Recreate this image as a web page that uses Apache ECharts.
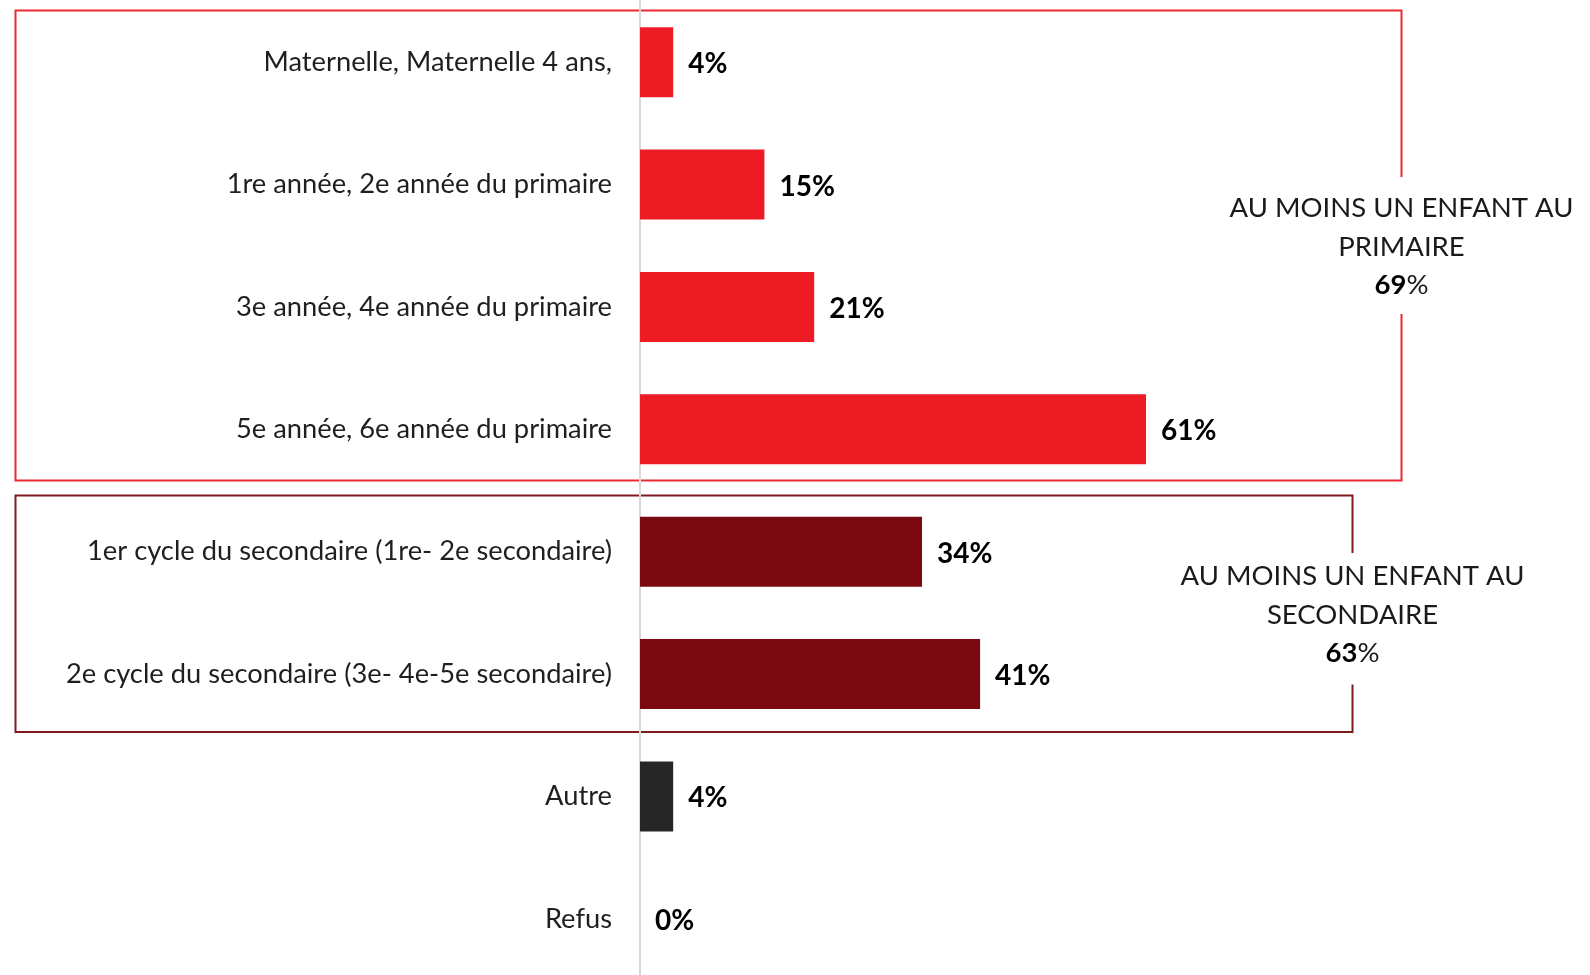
<!DOCTYPE html>
<html>
<head>
<meta charset="utf-8">
<script src="https://cdn.jsdelivr.net/npm/echarts@6/dist/echarts.min.js"></script>
<style>
  html, body { margin: 0; padding: 0; background: #fff; }
  #chart { width: 1590px; height: 975px; }
</style>
</head>
<body>
<div id="chart"></div>
<script>
// catégories (du haut vers le bas)
var categories = [
  'Maternelle, Maternelle 4 ans,',
  '1re année, 2e année du primaire',
  '3e année, 4e année du primaire',
  '5e année, 6e année du primaire',
  '1er cycle du secondaire (1re- 2e secondaire)',
  '2e cycle du secondaire (3e- 4e-5e secondaire)',
  'Autre',
  'Refus'
]
var values = [4, 15, 21, 61, 34, 41, 4, 0]
var groupNames = ['primaire', 'primaire', 'primaire', 'primaire', 'secondaire', 'secondaire', 'autre', 'autre']

// encadrés
var groupTitles = ['AU MOINS UN ENFANT AU\nPRIMAIRE', 'AU MOINS UN ENFANT AU\nSECONDAIRE']
var groupTotals = [69, 63]

var FONT = 'Lato'
var colors = { primaire: '#ED1C24', secondaire: '#7A0A10', autre: '#262626' }
var boxColors = ['#EC2A31', '#7F1A1F']

var chart = echarts.init(document.getElementById('chart'))

function annotText (i) {
  return groupTitles[i] + '\n{b|' + groupTotals[i] + '}%'
}

function annotStyle (i) {
  return {
    text: annotText(i),
    align: 'center',
    verticalAlign: 'middle',
    fill: '#1A1A1A',
    fontSize: 27.5,
    fontFamily: FONT,
    lineHeight: 38.5,
    rich: { b: { fontWeight: 'bold', fontSize: 27.5, fontFamily: FONT, lineHeight: 38.5, fill: '#000' } }
  }
}

var option = {
  animation: false,
  grid: {
    left: 640,
    width: 829.5,
    top: 1,
    height: 979,
    outerBoundsMode: 'none'
  },
  xAxis: {
    type: 'value',
    min: 0,
    max: 100,
    show: false
  },
  yAxis: {
    type: 'category',
    inverse: true,
    data: categories,
    axisLine: {
      show: true,
      lineStyle: { color: '#D9D9D9', width: 2 }
    },
    axisTick: { show: false },
    splitLine: { show: false },
    axisLabel: {
      margin: 28,
      color: '#1F1F1F',
      fontSize: 27.3,
      fontFamily: FONT
    }
  },
  series: [
    {
      type: 'bar',
      barWidth: 70,
      data: values.map(function (v, i) {
        return { value: v, itemStyle: { color: colors[groupNames[i]] } }
      }),
      label: {
        show: true,
        position: 'right',
        distance: 15,
        offset: [0, 2],
        formatter: '{c}%',
        color: '#000',
        fontSize: 28,
        fontWeight: 'bold',
        fontFamily: FONT
      }
    }
  ],
  graphic: [
    {
      type: 'polyline',
      shape: { points: [[1401.5, 177], [1401.5, 10.5], [15.5, 10.5], [15.5, 480.5], [1401.5, 480.5], [1401.5, 314]] },
      style: { stroke: boxColors[0], lineWidth: 2, fill: null }
    },
    {
      type: 'polyline',
      shape: { points: [[1352.5, 553], [1352.5, 495.5], [15.5, 495.5], [15.5, 732], [1352.5, 732], [1352.5, 684.5]] },
      style: { stroke: boxColors[1], lineWidth: 2, fill: null }
    },
    { type: 'text', x: 1401.5, y: 247, style: annotStyle(0) },
    { type: 'text', x: 1352.5, y: 615, style: annotStyle(1) }
  ]
}

chart.setOption(option)
window.onresize = chart.resize
</script>
</body>
</html>
